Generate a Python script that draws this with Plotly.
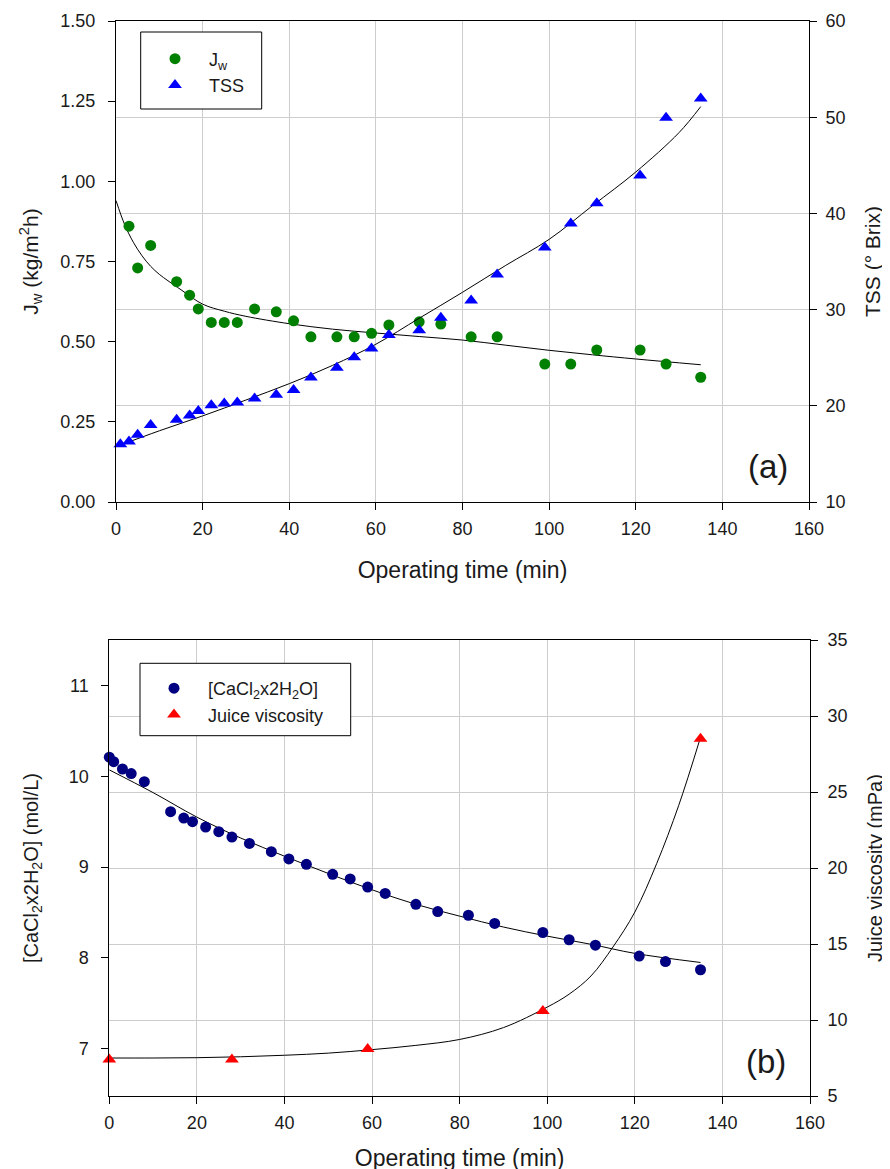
import plotly.graph_objects as go

# ---------------- data: panel (a) ----------------
time_jw = [3, 5, 8, 14, 17, 19, 22, 25, 28, 32, 37, 41, 45, 51, 55, 59, 63, 70, 75, 82, 88, 99, 105, 111, 121, 127, 135]
jw = [0.86, 0.73, 0.80, 0.687, 0.645, 0.602, 0.560, 0.560, 0.560, 0.602, 0.593, 0.565, 0.515, 0.515, 0.515,
      0.526, 0.552, 0.562, 0.555, 0.515, 0.515, 0.430, 0.430, 0.474, 0.474, 0.430, 0.389]

time_tss = [1, 3, 5, 8, 14, 17, 19, 22, 25, 28, 32, 37, 41, 45, 51, 55, 59, 63, 70, 75, 82, 88, 99, 105, 111, 121, 127, 135]
tss = [16.0, 16.3, 17.0, 18.0, 18.55, 19.0, 19.45, 20.05, 20.25, 20.35, 20.75, 21.15, 21.65, 22.95, 23.95,
       25.05, 25.95, 27.35, 27.85, 29.15, 30.95, 33.65, 36.45, 38.95, 41.05, 43.95, 49.95, 51.95]

jw_fit_t = [0, 2, 4, 6, 8, 10, 12, 15, 20, 25, 30, 40, 50, 60, 70, 80, 90, 100, 110, 120, 135]
jw_fit = [0.94, 0.865, 0.81, 0.768, 0.735, 0.71, 0.69, 0.662, 0.617, 0.595, 0.579, 0.556, 0.539, 0.527,
          0.516, 0.505, 0.489, 0.473, 0.459, 0.446, 0.428]

tss_fit_t = [0, 10, 20, 30, 40, 50, 60, 70, 80, 90, 100, 110, 120, 130, 135]
tss_fit = [15.75, 17.4, 18.95, 20.6, 22.3, 24.2, 26.4, 29.1, 31.8, 34.6, 37.3, 40.8, 44.3, 48.4, 51.1]

# ---------------- data: panel (b) ----------------
time_ca = [0, 1, 3, 5, 8, 14, 17, 19, 22, 25, 28, 32, 37, 41, 45, 51, 55, 59, 63, 70, 75, 82, 88, 99, 105, 111, 121, 127, 135]
ca = [10.21, 10.16, 10.08, 10.03, 9.94, 9.61, 9.54, 9.50, 9.44, 9.39, 9.33, 9.26, 9.17, 9.09, 9.03, 8.92,
      8.87, 8.78, 8.71, 8.59, 8.51, 8.47, 8.38, 8.28, 8.20, 8.14, 8.02, 7.96, 7.87]

time_visc = [0, 28, 59, 99, 135]
visc = [7.4, 7.4, 8.1, 10.6, 28.5]

ca_fit_t = [0, 10, 20, 30, 40, 50, 60, 70, 80, 90, 100, 110, 120, 135]
ca_fit = [10.07, 9.82, 9.55, 9.32, 9.12, 8.93, 8.75, 8.59, 8.46, 8.34, 8.24, 8.15, 8.05, 7.95]

visc_fit_t = [0, 10, 20, 30, 40, 50, 60, 70, 80, 90, 100, 105, 110, 115, 120, 125, 130, 135]
visc_fit = [7.5, 7.5, 7.52, 7.58, 7.68, 7.82, 8.05, 8.33, 8.72, 9.5, 10.85, 11.7, 12.9, 14.8, 17.1, 20.3, 24.1, 28.6]

# ---------------- styling ----------------
W, H = 890, 1169
OFF = 8  # page body margin offset (px)
FONT = "Liberation Sans, Arial, sans-serif"
TXT = "#1a1a1a"
GRID = "#cdcdcd"


def px_x(p):
    return (p - OFF) / W


def px_y(p):
    return 1 - (p - OFF) / H


fig = go.Figure()

# panel (a)
fig.add_trace(go.Scatter(x=jw_fit_t, y=jw_fit, mode="lines", line=dict(color="black", width=1, shape="spline"),
                         xaxis="x", yaxis="y", showlegend=False, hoverinfo="skip"))
fig.add_trace(go.Scatter(x=time_jw, y=jw, mode="markers", name="J<sub>w</sub>",
                         marker=dict(symbol="circle", size=11, color="#008000"),
                         xaxis="x", yaxis="y", cliponaxis=False, legend="legend"))
fig.add_trace(go.Scatter(x=tss_fit_t, y=tss_fit, mode="lines", line=dict(color="black", width=1, shape="spline"),
                         xaxis="x", yaxis="y2", showlegend=False, hoverinfo="skip"))
fig.add_trace(go.Scatter(x=time_tss, y=tss, mode="markers", name="TSS",
                         marker=dict(symbol="triangle-up", size=12, color="#0000ff"),
                         xaxis="x", yaxis="y2", cliponaxis=False, legend="legend"))

# panel (b)
fig.add_trace(go.Scatter(x=ca_fit_t, y=ca_fit, mode="lines", line=dict(color="black", width=1, shape="spline"),
                         xaxis="x2", yaxis="y3", showlegend=False, hoverinfo="skip"))
fig.add_trace(go.Scatter(x=time_ca, y=ca, mode="markers", name="[CaCl<sub>2</sub>x2H<sub>2</sub>O]",
                         marker=dict(symbol="circle", size=11, color="#000080"),
                         xaxis="x2", yaxis="y3", cliponaxis=False, legend="legend2"))
fig.add_trace(go.Scatter(x=visc_fit_t, y=visc_fit, mode="lines", line=dict(color="black", width=1, shape="spline"),
                         xaxis="x2", yaxis="y4", showlegend=False, hoverinfo="skip"))
fig.add_trace(go.Scatter(x=time_visc, y=visc, mode="markers", name="Juice viscosity",
                         marker=dict(symbol="triangle-up", size=12, color="#ff0000"),
                         xaxis="x2", yaxis="y4", cliponaxis=False, legend="legend2"))

tickfont = dict(family=FONT, size=18, color=TXT)
axis_common = dict(showline=True, linecolor="black", linewidth=1, ticks="outside", ticklen=7,
                   tickcolor="black", tickwidth=1, zeroline=False, tickfont=tickfont)

fig.update_layout(
    width=W, height=H, autosize=False,
    margin=dict(l=0, r=0, t=0, b=0, pad=0, autoexpand=False),
    paper_bgcolor="white", plot_bgcolor="white",
    font=dict(family=FONT, color=TXT),
    xaxis=dict(domain=[px_x(116), px_x(809)], range=[0, 160], dtick=20, anchor="y",
               showgrid=True, gridcolor=GRID, gridwidth=1, mirror=True, ticklabelstandoff=3,
               title=dict(text="Operating time (min)", font=dict(family=FONT, size=23, color=TXT), standoff=24),
               **axis_common),
    yaxis=dict(domain=[px_y(502), px_y(21)], range=[0, 1.5], dtick=0.25, tickformat=".2f", anchor="x",
               showgrid=False, ticklabelstandoff=9,
               title=dict(text="J<sub>w</sub> (kg/m<sup>2</sup>h)", font=dict(family=FONT, size=21, color=TXT), standoff=16),
               **axis_common),
    yaxis2=dict(range=[10, 60], dtick=10, overlaying="y", side="right", anchor="x",
                showgrid=True, gridcolor=GRID, gridwidth=1, ticklabelstandoff=5,
                title=dict(text="TSS (° Brix)", font=dict(family=FONT, size=21, color=TXT), standoff=20),
                **axis_common),
    xaxis2=dict(domain=[px_x(109.3), px_x(810)], range=[0, 160], dtick=20, anchor="y3",
                showgrid=True, gridcolor=GRID, gridwidth=1, mirror=True, ticklabelstandoff=3,
                title=dict(text="Operating time (min)", font=dict(family=FONT, size=23, color=TXT), standoff=18),
                **axis_common),
    yaxis3=dict(domain=[px_y(1096), px_y(640)], range=[6.48, 11.5], dtick=1, tick0=0, anchor="x2",
                showgrid=False, ticklabelstandoff=9,
                title=dict(text="[CaCl<sub>2</sub>x2H<sub>2</sub>O] (mol/L)", font=dict(family=FONT, size=20, color=TXT), standoff=24),
                **axis_common),
    yaxis4=dict(range=[5, 35], dtick=5, overlaying="y3", side="right", anchor="x2",
                showgrid=True, gridcolor=GRID, gridwidth=1, ticklabelstandoff=6,
                title=dict(text="Juice viscosity (mPa)", font=dict(family=FONT, size=20, color=TXT), standoff=21),
                **axis_common),
    legend=dict(x=px_x(141), y=px_y(40.5), xanchor="left", yanchor="top", bgcolor="rgba(0,0,0,0)",
                borderwidth=0, itemwidth=58, font=dict(family=FONT, size=18, color=TXT)),
    legend2=dict(x=px_x(140), y=px_y(670), xanchor="left", yanchor="top", bgcolor="rgba(0,0,0,0)",
                 borderwidth=0, itemwidth=58, font=dict(family=FONT, size=18, color=TXT)),
    shapes=[
        dict(type="rect", xref="paper", yref="paper", x0=px_x(140.7), x1=px_x(261.7), y0=px_y(109), y1=px_y(32),
             line=dict(color="black", width=1), fillcolor="white", layer="above"),
        dict(type="rect", xref="paper", yref="paper", x0=px_x(140), x1=px_x(350.7), y0=px_y(735.7), y1=px_y(663.3),
             line=dict(color="black", width=1), fillcolor="white", layer="above"),
    ],
    annotations=[
        dict(text="(a)", xref="paper", yref="paper", x=px_x(768), y=px_y(466), xanchor="center", yanchor="middle",
             showarrow=False, font=dict(family=FONT, size=33, color=TXT)),
        dict(text="(b)", xref="paper", yref="paper", x=px_x(766), y=px_y(1061), xanchor="center", yanchor="middle",
             showarrow=False, font=dict(family=FONT, size=33, color=TXT)),
    ],
)

fig.write_html("out.html")
